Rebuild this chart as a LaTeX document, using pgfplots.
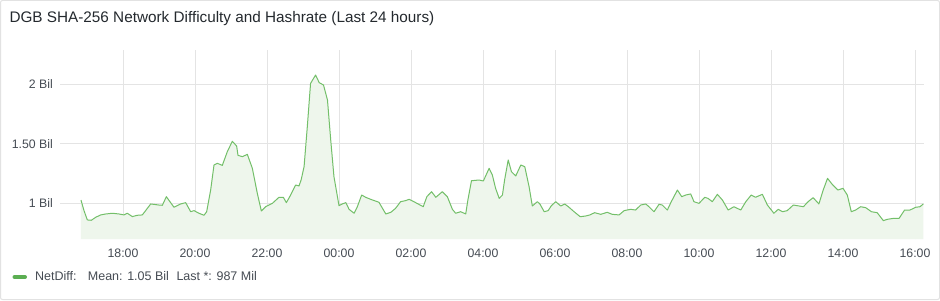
\documentclass[border=0pt]{standalone}
\usepackage{pgfplots}
\pgfplotsset{compat=1.18}
\usepackage{pgfplotstable}
\usepackage{fontspec}
\setmainfont{Liberation Sans}
\definecolor{linegreen}{HTML}{73BF69}
\definecolor{swatchgreen}{HTML}{5BAE52}
\definecolor{fillgreen}{HTML}{EEF6EC}
\definecolor{gridgray}{HTML}{E4E4E4}
\definecolor{bordergray}{HTML}{E2E2E2}
\definecolor{titletext}{HTML}{24292E}
\definecolor{ticktext}{HTML}{464C54}

\pgfplotstableread{
h v
16.833 1.029
16.917 0.940
17.009 0.862
17.120 0.859
17.241 0.884
17.380 0.904
17.519 0.912
17.704 0.918
17.889 0.912
18.028 0.904
18.120 0.918
18.259 0.890
18.398 0.901
18.537 0.904
18.769 0.996
19.000 0.987
19.093 0.985
19.204 1.057
19.417 0.968
19.602 0.996
19.741 1.007
19.880 0.931
19.972 0.940
20.111 0.918
20.250 0.901
20.324 0.931
20.435 1.113
20.528 1.323
20.620 1.337
20.759 1.320
20.898 1.435
21.037 1.522
21.157 1.482
21.194 1.404
21.315 1.393
21.454 1.412
21.593 1.295
21.731 1.085
21.843 0.937
21.963 0.973
22.148 1.001
22.333 1.052
22.454 1.052
22.537 1.007
22.657 1.071
22.796 1.155
22.889 1.147
22.950 1.200
23.030 1.309
23.120 1.645
23.210 2.008
23.350 2.078
23.450 2.014
23.570 1.994
23.680 1.868
23.770 1.533
23.860 1.225
24.000 0.982
24.090 0.996
24.190 1.007
24.280 0.951
24.420 0.918
24.510 0.973
24.630 1.071
24.740 1.052
24.880 1.035
25.110 1.010
25.300 0.912
25.440 0.926
25.570 0.959
25.710 1.015
25.850 1.024
25.950 1.035
26.130 1.007
26.340 0.973
26.440 1.057
26.570 1.099
26.690 1.052
26.870 1.099
27.010 1.057
27.150 0.951
27.240 0.918
27.380 0.931
27.520 0.912
27.580 1.029
27.680 1.191
27.890 1.197
28.010 1.189
28.170 1.295
28.260 1.239
28.350 1.127
28.450 1.043
28.540 1.071
28.600 1.197
28.700 1.365
28.790 1.267
28.910 1.231
29.050 1.323
29.160 1.309
29.280 1.141
29.370 0.979
29.510 1.015
29.580 0.996
29.700 0.931
29.810 0.940
29.900 0.982
30.020 1.015
30.160 0.979
30.270 0.996
30.390 0.968
30.530 0.931
30.700 0.889
30.850 0.895
30.970 0.904
31.100 0.923
31.270 0.909
31.450 0.926
31.590 0.909
31.780 0.904
31.920 0.940
32.100 0.951
32.240 0.945
32.380 0.987
32.520 0.996
32.610 0.973
32.750 0.931
32.890 0.993
32.980 0.987
33.120 0.945
33.230 1.015
33.400 1.113
33.520 1.057
33.630 1.071
33.770 1.080
33.860 1.015
34.000 1.001
34.160 1.052
34.250 1.043
34.370 1.015
34.510 1.077
34.650 1.029
34.810 0.945
34.970 0.973
35.160 0.945
35.300 1.015
35.450 1.071
35.570 1.052
35.760 1.077
35.900 0.987
36.080 0.918
36.200 0.951
36.320 0.931
36.450 0.940
36.620 0.987
36.780 0.979
36.900 0.973
37.030 1.015
37.170 1.049
37.330 0.996
37.450 1.113
37.570 1.211
37.700 1.161
37.860 1.113
38.000 1.127
38.120 1.071
38.230 0.931
38.350 0.945
38.490 0.973
38.630 0.965
38.790 0.931
38.950 0.923
39.120 0.856
39.230 0.867
39.420 0.876
39.560 0.876
39.710 0.945
39.860 0.945
40.020 0.968
40.140 0.973
40.230 0.996
}\netdiff

\begin{document}
\begin{tikzpicture}[x=1pt,y=1pt]
\useasboundingbox (0,0) rectangle (940,300);
\fill[white] (0,0) rectangle (940,300);
\draw[bordergray, line width=1pt, rounded corners=2pt] (0.5,0.5) rectangle (939.5,299.5);
\node[anchor=base west, inner sep=0pt, text=titletext, font=\fontsize{15.3}{18}\selectfont] at (9.3,277.3) {DGB SHA-256 Network Difficulty and Hashrate (Last 24 hours)};
\begin{axis}[
  at={(60pt,61pt)}, anchor=south west,
  width=864pt, height=189pt, scale only axis,
  xmin=16.25, xmax=40.25, ymin=0.702, ymax=2.288,
  axis line style={draw=none},
  major tick length=0pt,
  xtick={18,20,22,24,26,28,30,32,34,36,38,40},
  xticklabels={18:00,20:00,22:00,00:00,02:00,04:00,06:00,08:00,10:00,12:00,14:00,16:00},
  ytick={1,1.5,2},
  yticklabels={1 Bil,1.50 Bil,2 Bil},
  grid=major,
  grid style={gridgray, line width=1pt},
  tick label style={text=ticktext, font=\fontsize{12.3}{14}\selectfont, inner sep=0pt},
  xticklabel style={anchor=base, yshift=-18pt},
  yticklabel style={anchor=base east, xshift=-7pt, yshift=-4.4pt},
  clip=true,
]
\addplot[fill=fillgreen, draw=none] table[x=h, y=v] {\netdiff} \closedcycle;
\addplot[linegreen, line width=1pt, line join=round] table[x=h, y=v] {\netdiff};
\end{axis}
\draw[swatchgreen, line width=4pt, line cap=round] (14.5,23) -- (25,23);
\node[anchor=base west, inner sep=0pt, text=ticktext, font=\fontsize{12.5}{15}\selectfont] at (35,19.3) {NetDiff:};
\node[anchor=base west, inner sep=0pt, text=ticktext, font=\fontsize{12.5}{15}\selectfont] at (87.7,19.3) {Mean: 1.05 Bil};
\node[anchor=base west, inner sep=0pt, text=ticktext, font=\fontsize{12.5}{15}\selectfont] at (176.3,19.3) {Last *: 987 Mil};
\end{tikzpicture}
\end{document}
